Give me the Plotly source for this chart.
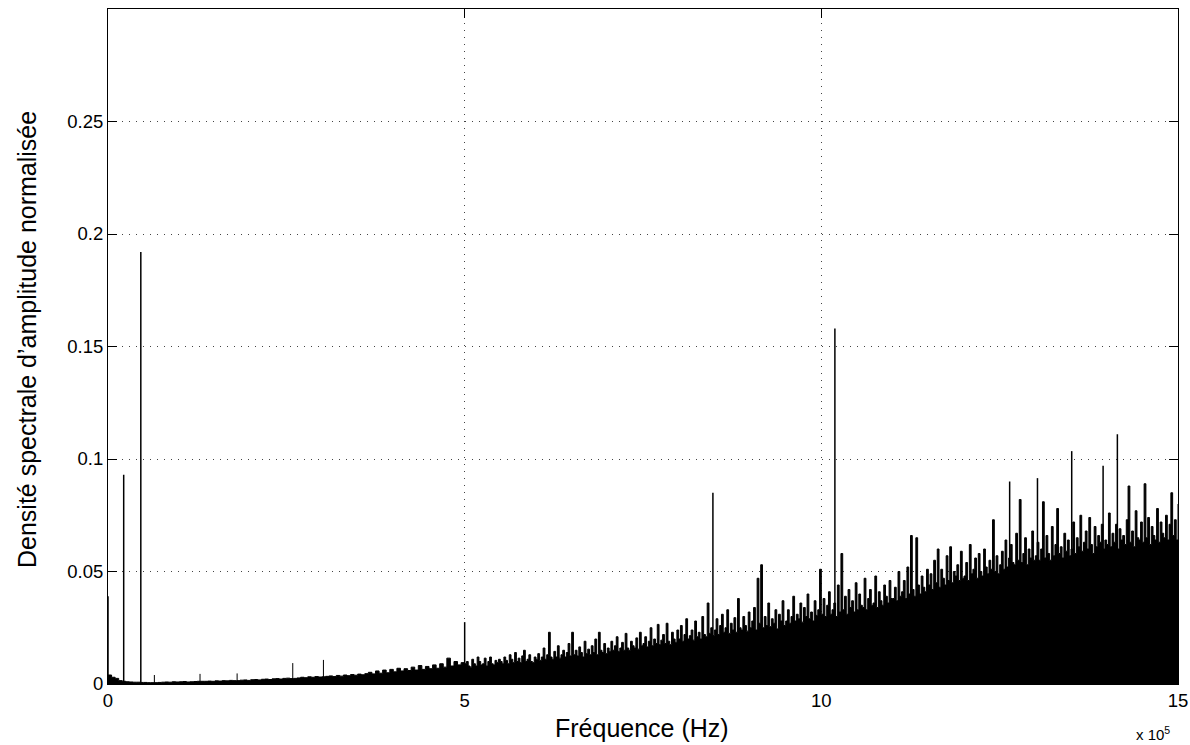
import numpy as np
import plotly.graph_objects as go

# Low band of the spectrum: 0 .. 495 kHz, one value every 5 kHz (units of 1e-3)
low_step_khz = 5
low_vals_milli = [
    4, 3, 2.5, 1.5, 1.2, 1.0, 0.9, 0.8, 0.8, 0.7, 0.7, 0.6, 0.6, 0.6, 0.7, 0.8, 0.9, 0.8, 1.0, 0.9,
    1.0, 1.1, 0.9, 1.0, 1.1, 1.2, 1.2, 1.2, 1.3, 1.2, 1.4, 1.3, 1.5, 1.4, 1.6, 1.5, 1.5, 1.7, 1.8, 1.6,
    1.9, 2.0, 1.8, 2.1, 2.2, 2.0, 2.3, 2.4, 2.2, 2.5, 2.6, 2.4, 2.5, 2.7, 3.0, 2.8, 3.2, 3.0, 3.3, 3.1,
    3.2, 3.4, 3.6, 3.3, 3.8, 3.5, 4.0, 3.7, 4.2, 3.9, 4.4, 4.1, 4.6, 5.2, 4.5, 5.8, 4.8, 6.2, 5.0, 6.5,
    5.4, 7.0, 5.8, 6.8, 6.0, 7.5, 6.2, 8.2, 6.5, 7.8, 6.8, 8.5, 7.0, 9.0, 7.5, 11.5, 8.0, 10.0, 8.5, 9.5,
]
# High band: 500 .. 1500 kHz, one value every 2.5 kHz (units of 1e-3)
high_start_khz = 500
high_step_khz = 2.5
high_vals_milli = [
    9, 10, 8, 7.5, 11, 9, 8, 12, 10, 8.5, 9, 11.5, 8, 10, 12, 9, 8.5, 10.5, 9.5, 11,
    10, 9, 12, 10.5, 9, 13, 11, 9.5, 14, 10, 11.5, 9.5, 12.5, 15, 10, 11, 13, 10, 9.5, 12,
    11, 13.5, 10.5, 12, 16, 11, 13, 23, 12, 11, 14.5, 12, 17, 11.5, 13, 15, 12, 14, 18, 12.5,
    23, 13, 15, 12.5, 16.5, 14, 12, 19, 13.5, 15.5, 13, 17, 14, 20, 13, 23, 15, 14, 18, 13.5,
    16, 14.5, 19, 15, 17, 21, 14.5, 16, 18.5, 15, 22.5, 16, 15, 19, 17, 16, 20.5, 15.5, 23, 17,
    18, 21, 16.5, 19, 25, 17, 20, 18, 26.5, 17.5, 19.5, 22, 18, 27, 19, 17.5, 23, 20, 18.5, 24,
    20, 26, 19, 22, 29, 20, 21.5, 24, 19.5, 28, 21, 23, 20, 30, 22, 21, 36, 22.5, 25, 21.5,
    24, 29, 22, 26, 31, 23, 25, 33, 22.5, 27, 24, 29.5, 23, 38, 25, 24, 30, 26, 23.5, 32,
    25, 28, 34, 24, 47, 27, 53, 25, 30, 26, 36, 25.5, 29, 27, 33, 24.5, 31, 28, 37, 26,
    28, 33, 27, 30, 39, 28, 31, 29, 36, 27.5, 34, 30, 40, 29, 32, 28, 37, 30.5, 33, 51,
    31, 38, 30, 35, 41, 31, 33, 36, 30, 44, 32, 58, 33, 39, 31, 42, 34, 37, 32, 45,
    33, 40, 35, 34, 47, 33, 38, 42, 35, 36, 48, 34, 41, 37, 35, 44, 39, 36, 46, 38,
    38, 43, 37, 50, 39, 41, 46, 38, 52, 40, 66, 42, 39, 65, 44, 40, 48, 43, 41, 51,
    44, 49, 42, 55, 45, 60, 43, 51, 47, 44, 57, 46, 61, 45, 50, 48, 53, 46, 59, 47,
    48, 54, 46, 62, 49, 51, 56, 47, 58, 50, 48, 60, 52, 49, 55, 51, 73, 50, 57, 49,
    53, 59, 51, 64, 52, 56, 62, 54, 53, 67, 55, 82, 54, 58, 65, 53, 60, 56, 68, 55,
    57, 63, 55, 60, 81, 56, 66, 58, 55, 70, 57, 62, 78, 58, 61, 56, 67, 59, 64, 57,
    60, 72, 58, 65, 61, 75, 59, 63, 68, 60, 74, 62, 58, 70, 61, 66, 63, 71, 60, 64,
    62, 76, 61, 67, 63, 71, 60, 69, 64, 66, 62, 73, 88, 63, 68, 61, 77, 65, 64, 72,
    63, 89, 65, 74, 62, 70, 66, 64, 78, 63, 72, 67, 65, 75, 64, 71, 85, 66, 73, 64,
    80,
]

# Isolated strong spectral lines
peak_freq_khz = [0, 22, 46, 500, 848, 1019, 1264, 1303, 1351, 1395, 1415]
peak_vals = [0.039, 0.093, 0.192, 0.0275, 0.085, 0.158, 0.090, 0.0915, 0.1035, 0.097, 0.111]
# Small isolated lines in the low band
minor_freq_khz = [65, 129, 181, 259, 302]
minor_vals = [0.004, 0.0045, 0.0047, 0.0093, 0.0107]

x_tick_vals_hz = [0, 5e5, 10e5, 15e5]
x_tick_text = ["0", "5", "10", "15"]
y_tick_vals = [0, 0.05, 0.1, 0.15, 0.2, 0.25]
y_tick_text = ["0", "0.05", "0.1", "0.15", "0.2", "0.25"]

low_freq_hz = np.arange(len(low_vals_milli)) * low_step_khz * 1e3
high_freq_hz = (high_start_khz + np.arange(len(high_vals_milli)) * high_step_khz) * 1e3
body_freq_hz = np.concatenate([low_freq_hz, high_freq_hz])
body_vals = np.concatenate([low_vals_milli, high_vals_milli]) * 1e-3


def stems(freqs_khz, vals):
    xs, ys = [], []
    for f, v in zip(freqs_khz, vals):
        xs += [f * 1e3, f * 1e3, None]
        ys += [0, v, None]
    return xs, ys


fig = go.Figure()
fig.add_trace(go.Scatter(
    x=body_freq_hz, y=body_vals, mode="lines", fill="tozeroy", line_shape="hv",
    fillcolor="black", line=dict(color="black", width=1), hoverinfo="skip",
))
mx, my = stems(minor_freq_khz, minor_vals)
fig.add_trace(go.Scatter(x=mx, y=my, mode="lines", line=dict(color="black", width=1), hoverinfo="skip"))
px, py = stems(peak_freq_khz, peak_vals)
fig.add_trace(go.Scatter(x=px, y=py, mode="lines", line=dict(color="black", width=1.5), hoverinfo="skip"))

FONT = "Liberation Sans, Arial, sans-serif"
axis_common = dict(
    showline=True, linecolor="black", linewidth=1, mirror="ticks", automargin=False,
    ticks="inside", ticklen=9, tickcolor="black", tickwidth=1,
    showgrid=True, gridcolor="#444", gridwidth=1, griddash="1px,6px",
    zeroline=False, tickfont=dict(family=FONT, size=18.5, color="black"),
)
fig.update_xaxes(range=[0, 1.5e6], tickvals=x_tick_vals_hz, ticktext=x_tick_text, **axis_common)
fig.update_yaxes(range=[0, 0.3], tickvals=y_tick_vals, ticktext=y_tick_text, **axis_common)

fig.update_layout(
    width=1190, height=745, showlegend=False,
    paper_bgcolor="white", plot_bgcolor="white",
    margin=dict(l=108, r=12, t=9, b=61),
    font=dict(family=FONT, color="black"),
    annotations=[
        dict(text="Fréquence (Hz)", xref="paper", yref="paper", x=0.499, y=-0.065,
             showarrow=False, font=dict(size=25, family=FONT), xanchor="center", yanchor="middle"),
        dict(text="Densité spectrale d’amplitude normalisée", xref="paper", yref="paper",
             x=-0.0757, y=0.5096, textangle=-90, showarrow=False,
             font=dict(size=25, family=FONT), xanchor="center", yanchor="middle"),
        dict(text="x 10<sup>5</sup>", xref="paper", yref="paper", x=0.9766, y=-0.074,
             showarrow=False, font=dict(size=15, family=FONT), xanchor="center", yanchor="middle"),
    ],
)

fig.write_html(
    "out.html",
    config={"displayModeBar": False},
    post_script="document.body.style.margin='0';document.body.style.overflow='hidden';",
)
